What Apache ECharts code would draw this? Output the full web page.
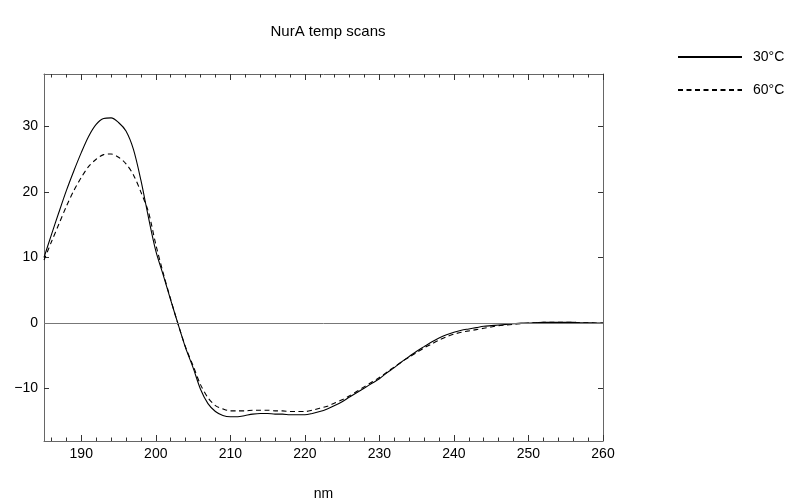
<!DOCTYPE html>
<html>
<head>
<meta charset="utf-8">
<script src="https://cdn.jsdelivr.net/npm/echarts@6/dist/echarts.min.js"></script>
<style>html,body{margin:0;padding:0;background:#fff;}#c{width:793px;height:501px;}</style>
</head>
<body>
<div id="c"></div>
<script>
const wavelengths = [185,186,187,188,189,190,191,192,193,194,195,196,197,198,199,200,201,202,203,204,205,206,207,208,209,210,211,212,213,214,215,216,217,218,219,220,221,222,223,224,225,226,227,228,229,230,231,232,233,234,235,236,237,238,239,240,241,242,243,244,245,246,247,248,249,250,251,252,253,254,255,256,257,258,259,260];
const scan30 = [10.0,13.5,16.9,20.2,23.2,26.0,28.5,30.3,31.2,31.3,30.6,29.3,26.5,21.8,16.2,11.0,7.3,3.5,-0.2,-3.8,-6.8,-10.1,-12.3,-13.5,-14.1,-14.3,-14.3,-14.1,-13.9,-13.8,-13.8,-13.9,-13.9,-14.0,-14.0,-14.0,-13.8,-13.5,-13.1,-12.6,-12.0,-11.3,-10.6,-9.9,-9.2,-8.5,-7.6,-6.8,-5.9,-5.1,-4.3,-3.6,-2.9,-2.3,-1.8,-1.4,-1.1,-0.9,-0.7,-0.5,-0.4,-0.3,-0.2,-0.1,0.0,0.0,0.05,0.1,0.1,0.1,0.1,0.1,0.05,0.05,0.0,0.0];
const scan60 = [9.6,12.4,15.1,17.8,20.2,22.2,23.9,25.0,25.7,25.8,25.3,24.3,22.6,20.0,17.0,12.0,7.6,3.6,-0.2,-3.7,-6.5,-9.4,-11.4,-12.6,-13.1,-13.4,-13.4,-13.4,-13.3,-13.3,-13.3,-13.4,-13.4,-13.5,-13.5,-13.5,-13.3,-13.0,-12.7,-12.2,-11.7,-11.1,-10.4,-9.7,-9.0,-8.3,-7.5,-6.7,-5.9,-5.2,-4.5,-3.8,-3.2,-2.6,-2.1,-1.7,-1.4,-1.2,-1.0,-0.8,-0.6,-0.4,-0.3,-0.2,-0.1,0.0,0.05,0.1,0.1,0.1,0.1,0.1,0.05,0.05,0.0,0.0];
const xMajorTicks = [190,200,210,220,230,240,250,260];
const xMinorTicks = [186,188,192,194,196,198,202,204,206,208,212,214,216,218,222,224,226,228,232,234,236,238,242,244,246,248,252,254,256,258];
const yTicks = [-10,0,10,20,30];
const seriesNames = ['30°C','60°C'];

const FONT = 'Liberation Sans, Arial, sans-serif';
const frameColor = '#666';
const tickColor = '#333';

function xAx(pos, ticks, len, labels, line) {
  return {
    type: 'value', position: pos, min: 185, max: 260,
    axisLine: {show: line, onZero: false, lineStyle: {color: frameColor, width: 1}},
    axisTick: {show: true, inside: true, length: len, customValues: ticks, lineStyle: {color: tickColor, width: 1}},
    axisLabel: {show: labels, customValues: ticks, color: '#000', fontFamily: FONT, fontSize: 14, margin: 6},
    splitLine: {show: false}
  };
}
function yAx(pos, labels) {
  return {
    type: 'value', position: pos, min: -18, max: 38,
    axisLine: {show: true, onZero: false, lineStyle: {color: frameColor, width: 1}},
    axisTick: {show: true, inside: true, length: 5, customValues: yTicks, lineStyle: {color: tickColor, width: 1}},
    axisLabel: {show: labels, customValues: yTicks, color: '#000', fontFamily: FONT, fontSize: 14, margin: 6,
      formatter: v => (v < 0 ? '\u2212' + Math.abs(v) : String(v))},
    splitLine: {show: false}
  };
}

const chart = echarts.init(document.getElementById('c'), null, {renderer: 'canvas'});
chart.setOption({
  animation: false,
  backgroundColor: '#fff',
  title: {text: 'NurA temp scans', left: 323, top: 19, textAlign: 'center',
    textStyle: {fontFamily: FONT, fontSize: 15, fontWeight: 'normal', color: '#000'}},
  legend: {
    orient: 'vertical', left: 672, top: 45, itemWidth: 64, itemHeight: 14, itemGap: 19,
    textStyle: {fontFamily: FONT, fontSize: 14, color: '#000', padding: [0, 0, 0, 6]},
    itemStyle: {opacity: 0},
    data: seriesNames
  },
  grid: {left: 44, right: 190, top: 74, bottom: 60, containLabel: false, outerBoundsMode: 'none'},
  xAxis: [
    Object.assign(xAx('bottom', xMajorTicks, 6, true, true), {name: 'nm', nameLocation: 'middle', nameGap: 46,
      nameTextStyle: {fontFamily: FONT, fontSize: 14, color: '#000'}}),
    xAx('bottom', xMinorTicks, 3.5, false, false),
    xAx('top', xMajorTicks, 6, false, true),
    xAx('top', xMinorTicks, 3.5, false, false)
  ],
  yAxis: [yAx('left', true), yAx('right', false)],
  series: [
    {
      name: seriesNames[0], type: 'line', xAxisIndex: 0, yAxisIndex: 0,
      data: wavelengths.map((w, i) => [w, scan30[i]]),
      smooth: 0.3, symbol: 'none', lineStyle: {color: '#000', width: 1.1, type: 'solid'},
      itemStyle: {color: '#000'},
      markLine: {silent: true, symbol: 'none', label: {show: false},
        lineStyle: {color: '#777', width: 1, type: 'solid'}, data: [{yAxis: 0}]},
      z: 3
    },
    {
      name: seriesNames[1], type: 'line', xAxisIndex: 0, yAxisIndex: 0,
      data: wavelengths.map((w, i) => [w, scan60[i]]),
      smooth: 0.3, symbol: 'none', lineStyle: {color: '#000', width: 1.1, type: [5, 3.5]},
      itemStyle: {color: '#000'},
      z: 3
    }
  ]
});
</script>
</body>
</html>
